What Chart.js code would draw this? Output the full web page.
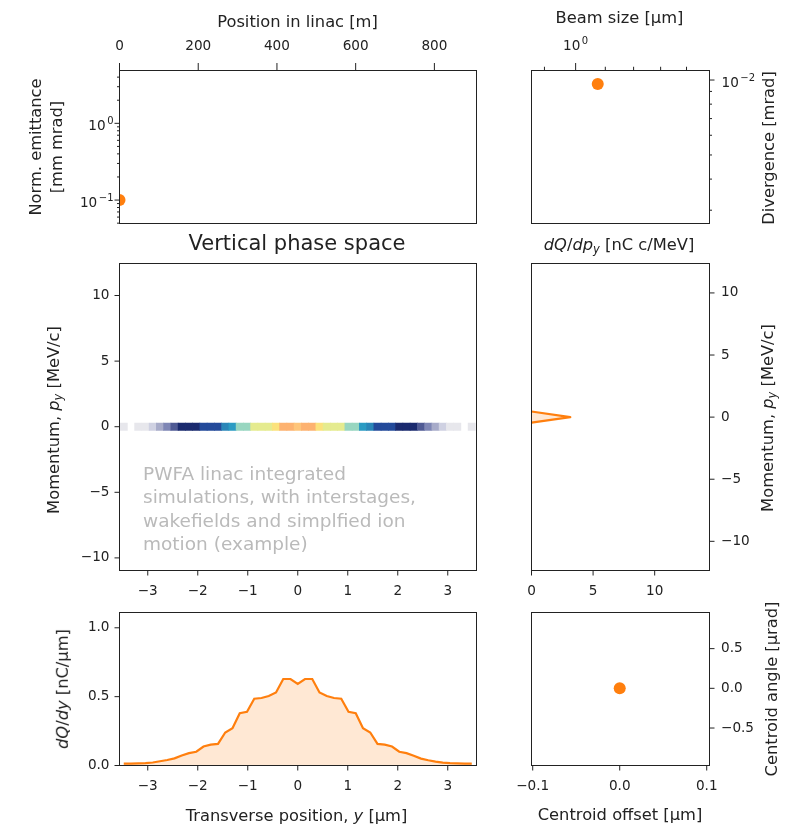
<!DOCTYPE html>
<html lang="en">
<head>
<meta charset="UTF-8">
<title>Vertical phase space</title>
<script src="https://cdn.jsdelivr.net/npm/chart.js"></script>
<style>
  body { margin: 0; background: #fff; }
  #fig { position: relative; width: 789px; height: 826px; overflow: hidden; font-family: 'DejaVu Sans', sans-serif; color: #222; }
  #fig canvas { position: absolute; left: 0; top: 0; }
  .lbl { position: absolute; white-space: nowrap; font-size: 16.3px; line-height: 1; transform: translate(-50%, -50%); }
  .rot { transform: translate(-50%, -50%) rotate(-90deg); }
  .lbl sub { font-size: 70%; vertical-align: -0.25em; line-height: 0; }
  .title { font-size: 21px; }
  .note { position: absolute; left: 143px; top: 462px; font-size: 18.5px; line-height: 23.3px; color: #bababa; white-space: nowrap; }
</style>
</head>
<body>
<div id="fig">
  <canvas id="cA" width="789" height="826"></canvas>
  <canvas id="cB" width="789" height="826"></canvas>
  <canvas id="cC" width="789" height="826"></canvas>
  <canvas id="cD" width="789" height="826"></canvas>
  <canvas id="cE" width="789" height="826"></canvas>
  <canvas id="cF" width="789" height="826"></canvas>

  <div class="lbl" style="left:297.5px;top:22px">Position in linac [m]</div>
  <div class="lbl" style="left:619.5px;top:18px">Beam size [µm]</div>
  <div class="lbl rot" style="left:46.5px;top:147px;text-align:center;line-height:20.7px">Norm. emittance<br>[mm mrad]</div>
  <div class="lbl rot" style="left:769px;top:147.5px">Divergence [mrad]</div>
  <div class="lbl title" style="left:297px;top:243px">Vertical phase space</div>
  <div class="lbl" style="left:619px;top:245px"><i>dQ</i>/<i>dp<sub>y</sub></i> [nC c/MeV]</div>
  <div class="lbl rot" style="left:54px;top:420px">Momentum, <i>p<sub>y</sub></i> [MeV/c]</div>
  <div class="lbl rot" style="left:767.5px;top:418px">Momentum, <i>p<sub>y</sub></i> [MeV/c]</div>
  <div class="lbl rot" style="left:62.5px;top:689px"><i>dQ</i>/<i>dy</i> [nC/µm]</div>
  <div class="lbl" style="left:296.5px;top:816px">Transverse position, <i>y</i> [µm]</div>
  <div class="lbl" style="left:620px;top:815px">Centroid offset [µm]</div>
  <div class="lbl rot" style="left:772px;top:689px">Centroid angle [µrad]</div>
  <div class="note">PWFA linac integrated<br>simulations, with interstages,<br>wakefields and simplfied ion<br>motion (example)</div>
</div>

<script>
// beam evolution along the linac (only the first stage so far)
const linacPos = [0];          // m
const normEmit = [0.1];        // mm mrad
const beamSize = [1.037];      // µm
const divergence = [0.00964];  // mrad

// transverse charge profile, bin centres in µm
const yBins = [-3.480, -3.335, -3.190, -3.045, -2.900, -2.755, -2.610, -2.465, -2.320, -2.175,
  -2.030, -1.885, -1.740, -1.595, -1.450, -1.305, -1.160, -1.015, -0.870, -0.725,
  -0.580, -0.435, -0.290, -0.145, 0, 0.145, 0.290, 0.435, 0.580, 0.725,
  0.870, 1.015, 1.160, 1.305, 1.450, 1.595, 1.740, 1.885, 2.030, 2.175,
  2.320, 2.465, 2.610, 2.755, 2.900, 3.045, 3.190, 3.335, 3.480];
const dQdy = [0.014, 0.014, 0.015, 0.017, 0.022, 0.031, 0.040, 0.052, 0.073, 0.090,
  0.100, 0.138, 0.152, 0.157, 0.240, 0.270, 0.380, 0.390, 0.485, 0.490,
  0.505, 0.530, 0.628, 0.628, 0.592, 0.628, 0.628, 0.530, 0.505, 0.490,
  0.485, 0.390, 0.380, 0.270, 0.240, 0.157, 0.152, 0.138, 0.100, 0.090,
  0.071, 0.050, 0.038, 0.028, 0.021, 0.017, 0.015, 0.014, 0.014];

// phase-space density in the py ~ 0 row (same y bins)
const phaseRow = [0.014, 0, 0.015, 0.017, 0.022, 0.031, 0.040, 0.052, 0.073, 0.090,
  0.100, 0.138, 0.152, 0.157, 0.240, 0.270, 0.380, 0.390, 0.485, 0.490,
  0.505, 0.530, 0.628, 0.628, 0.592, 0.628, 0.628, 0.530, 0.505, 0.490,
  0.485, 0.390, 0.380, 0.270, 0.240, 0.157, 0.152, 0.138, 0.100, 0.090,
  0.071, 0.050, 0.038, 0.028, 0.021, 0.017, 0.015, 0, 0.014];
const pyRowEdges = [-0.28, 0.28];   // MeV/c

// momentum spectrum
const pyBins = [0.45, 0, -0.45];    // MeV/c
const dQdpy = [0, 3.15, 0];         // nC c/MeV

// centroid
const centroidOffset = [0];  // µm
const centroidAngle = [0];   // µrad

// tick values and labels
const posTicks = [0, 200, 400, 600, 800];
const posLabels = ['0', '200', '400', '600', '800'];
const emitTicks = [0.1, 1];
const emitLabels = ['10⁻¹', '10⁰'];
const emitMinor = [0.05, 0.06, 0.07, 0.08, 0.09, 0.2, 0.3, 0.4, 0.5, 0.6, 0.7, 0.8, 0.9, 2, 3, 4];
const sizeTicks = [1];
const sizeLabels = ['10⁰'];
const sizeMinor = [0.95, 1.05, 1.1, 1.15, 1.2];
const divTicks = [0.01];
const divLabels = ['10⁻²'];
const divMinor = [0.003, 0.004, 0.005, 0.006, 0.007, 0.008, 0.009];
const yTicks = [-3, -2, -1, 0, 1, 2, 3];
const yLabels = ['−3', '−2', '−1', '0', '1', '2', '3'];
const pyTicks = [-10, -5, 0, 5, 10];
const pyLabels = ['−10', '−5', '0', '5', '10'];
const specTicks = [0, 5, 10];
const specLabels = ['0', '5', '10'];
const dQdyTicks = [0, 0.5, 1];
const dQdyLabels = ['0.0', '0.5', '1.0'];
const offTicks = [-0.1, 0, 0.1];
const offLabels = ['−0.1', '0.0', '0.1'];
const angTicks = [-0.5, 0, 0.5];
const angLabels = ['−0.5', '0.0', '0.5'];

const ORANGE = '#ff7f0e';
const INK = '#222';
const FONT = '"DejaVu Sans"';

// density -> colour lookup for the phase-space cells
const cmap = [
  [0.000, '#e7e7ec'], [0.020, '#cfd1e2'], [0.026, '#a7abc9'], [0.035, '#7e86b5'],
  [0.046, '#4f5a94'], [0.060, '#1a2a6e'], [0.120, '#234a9a'], [0.200, '#2a86b8'],
  [0.260, '#2b9bc3'], [0.330, '#98d6c0'], [0.450, '#e5eb8f'], [0.520, '#fbe27c'],
  [0.560, '#fec57a'], [0.610, '#fdb270']
];
function cellColor(v) {
  let c = cmap[0][1];
  for (const [lvl, col] of cmap) if (v >= lvl) c = col;
  return c;
}

Chart.defaults.font.family = 'DejaVu Sans';

// '10⁻¹' -> base '10' plus a raised, smaller exponent (mathtext style)
const SUP = { '⁰': '0', '¹': '1', '²': '2', '³': '3', '⁻': '−' };
function drawPow(ctx, label, x, y, align) {
  const base = label.slice(0, 2);
  const exp = [...label.slice(2)].map(c => SUP[c]).join('');
  ctx.font = '13.6px ' + FONT;
  const wb = ctx.measureText(base).width;
  ctx.font = '10px ' + FONT;
  const we = ctx.measureText(exp).width;
  const W = wb + 1.5 + we;
  const x0 = align === 'right' ? x - W : align === 'center' ? x - W / 2 : x;
  ctx.fillStyle = INK;
  ctx.textAlign = 'left';
  ctx.textBaseline = 'alphabetic';
  ctx.font = '13.6px ' + FONT;
  ctx.fillText(base, x0, y);
  ctx.font = '10px ' + FONT;
  ctx.fillText(exp, x0 + wb + 1.5, y - 6);
}

// matplotlib-like box, outward tick marks and power-of-ten labels
const frame = {
  id: 'frame',
  afterDraw(chart) {
    const { ctx, chartArea: a } = chart;
    ctx.save();
    ctx.strokeStyle = INK;
    ctx.lineWidth = 1;
    ctx.strokeRect(a.left, a.top, a.right - a.left, a.bottom - a.top);
    for (const s of Object.values(chart.scales)) {
      const pos = s.options.position;
      const major = pos === 'top' ? 7.5 : 5;
      for (const t of s.ticks) {
        const len = t.minor ? major / 2 : major;
        const p = s.getPixelForValue(t.value);
        ctx.beginPath();
        if (pos === 'top') { ctx.moveTo(p, a.top); ctx.lineTo(p, a.top - len); }
        else if (pos === 'bottom') { ctx.moveTo(p, a.bottom); ctx.lineTo(p, a.bottom + len); }
        else if (pos === 'left') { ctx.moveTo(a.left, p); ctx.lineTo(a.left - len, p); }
        else { ctx.moveTo(a.right, p); ctx.lineTo(a.right + len, p); }
        ctx.stroke();
        if (t.pow) {
          if (pos === 'left') drawPow(ctx, t.pow, a.left - 6, p + 6.5, 'right');
          else if (pos === 'right') drawPow(ctx, t.pow, a.right + 12, p + 6.5, 'left');
          else if (pos === 'top') drawPow(ctx, t.pow, p, a.top - 20.5, 'center');
        }
      }
    }
    ctx.restore();
  }
};

const PAD = { top: 16.3, bottom: 13, left: 10, right: 11.5 };
const THICK = { top: 40, bottom: 40, left: 60, right: 60 };  // fixed axis box sizes

function axis(position, type, min, max, majors, labels, minors) {
  const isLog = type === 'logarithmic';
  return {
    type, position, min, max, offset: false,
    grid: { display: false, drawTicks: false },
    border: { display: false },
    afterFit: s => { if (s.isHorizontal()) s.height = THICK[position]; else s.width = THICK[position]; },
    afterBuildTicks: s => {
      const t = majors.map((v, i) => isLog
        ? { value: v, text: '', pow: labels[i], minor: false }
        : { value: v, text: labels[i], minor: false });
      (minors || []).forEach(v => t.push({ value: v, text: '', minor: true }));
      s.ticks = t.sort((p, q) => p.value - q.value);
    },
    ticks: {
      autoSkip: false, maxRotation: 0, minRotation: 0,
      padding: PAD[position], color: INK,
      font: { size: 13.6 },
      callback: (v, i, t) => t[i].text
    }
  };
}

// area = [left, top, right, bottom] of the plot box in page pixels
function panel(id, area, type, datasets, scales) {
  const used = Object.values(scales).map(s => s.position);
  const side = p => (used.includes(p) ? THICK[p] : 0);
  return new Chart(document.getElementById(id), {
    type,
    data: { datasets },
    options: {
      responsive: false,
      animation: false,
      devicePixelRatio: 1,
      layout: { padding: {
        left: area[0] - side('left'),
        top: area[1] - side('top'),
        right: 789 - area[2] - side('right'),
        bottom: 826 - area[3] - side('bottom')
      } },
      plugins: { legend: { display: false }, tooltip: { enabled: false } },
      scales
    },
    plugins: [frame]
  });
}

const dot = (xs, ys) => ({
  data: xs.map((x, i) => ({ x, y: ys[i] })),
  pointRadius: 6, pointBackgroundColor: ORANGE, pointBorderWidth: 0, clip: 0
});

// emittance vs position
panel('cA', [119.5, 70.5, 476.5, 223.5], 'scatter', [dot(linacPos, normEmit)], {
  x: axis('top', 'linear', 0, 907, posTicks, posLabels),
  y: axis('left', 'logarithmic', 0.0495, 4.88, emitTicks, emitLabels, emitMinor)
});

// divergence vs beam size
panel('cB', [531.5, 70.5, 709.5, 223.5], 'scatter', [dot(beamSize, divergence)], {
  x: axis('top', 'logarithmic', 0.9347, 1.2462, sizeTicks, sizeLabels, sizeMinor),
  y: axis('right', 'logarithmic', 0.002653, 0.01092, divTicks, divLabels, divMinor)
});

// phase-space cells
const cells = [], cellColors = [];
yBins.forEach((x, i) => {
  if (phaseRow[i] > 0) {
    cells.push({ x, y: pyRowEdges });
    cellColors.push(cellColor(phaseRow[i]));
  }
});
panel('cC', [119.5, 263.5, 476.5, 570.5], 'bar', [{
  data: cells, backgroundColor: cellColors, borderWidth: 0,
  barPercentage: 1, categoryPercentage: 1, grouped: false
}], {
  x: axis('bottom', 'linear', -3.565, 3.575, yTicks, yLabels),
  y: axis('left', 'linear', -10.96, 12.44, pyTicks, pyLabels)
});

// momentum spectrum
panel('cD', [531.5, 263.5, 709.5, 570.5], 'scatter', [{
  data: dQdpy.map((x, i) => ({ x, y: pyBins[i] })),
  showLine: true, borderColor: ORANGE, borderWidth: 2.2, borderJoinStyle: 'round', pointRadius: 0,
  fill: 'shape', backgroundColor: 'rgba(255,127,14,0.18)'
}], {
  x: axis('bottom', 'linear', 0, 14.45, specTicks, specLabels),
  y: axis('right', 'linear', -12.35, 12.37, pyTicks, pyLabels)
});

// transverse charge profile
panel('cE', [119.5, 612.5, 476.5, 765.5], 'scatter', [{
  data: yBins.map((x, i) => ({ x, y: dQdy[i] })),
  showLine: true, borderColor: ORANGE, borderWidth: 2.2, pointRadius: 0,
  fill: 'origin', backgroundColor: 'rgba(255,127,14,0.18)'
}], {
  x: axis('bottom', 'linear', -3.565, 3.575, yTicks, yLabels),
  y: axis('left', 'linear', 0, 1.111, dQdyTicks, dQdyLabels)
});

// centroid
panel('cF', [531.5, 612.5, 709.5, 765.5], 'scatter', [dot(centroidOffset, centroidAngle)], {
  x: axis('bottom', 'linear', -0.1014, 0.1032, offTicks, offLabels),
  y: axis('right', 'linear', -0.972, 0.955, angTicks, angLabels)
});
</script>
</body>
</html>
